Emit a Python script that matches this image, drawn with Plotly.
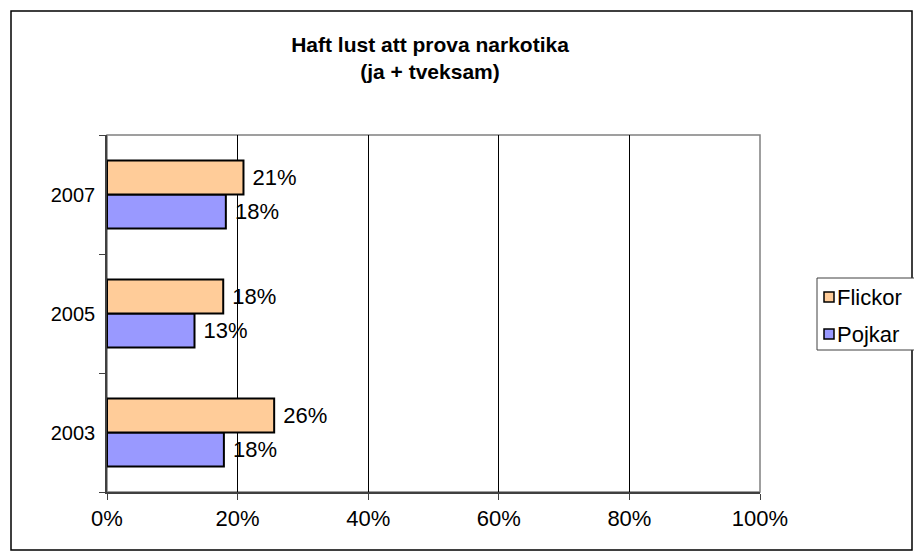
import plotly.graph_objects as go

# data
years = ["2003", "2005", "2007"]
flickor = [0.256, 0.178, 0.209]
pojkar = [0.179, 0.134, 0.182]
x_ticks = [0, 0.2, 0.4, 0.6, 0.8, 1.0]
series_names = ["Flickor", "Pojkar"]
series_colors = ["#FFCC99", "#9999FF"]

font = "Arial, Liberation Sans, sans-serif"

# the page body has an 8px margin, so the figure sits 8px in from the corner
OFF = 8
W, H = 922 - OFF, 559 - OFF
# plot area in screen pixels
L, R, T, B = 107 - OFF, 760 - OFF, 135 - OFF, 492 - OFF


def px(x):
    return (x - OFF - L) / (R - L)


def py(y):
    return (B - (y - OFF)) / (B - T)


fig = go.Figure()
for name, vals, col in [("Pojkar", pojkar, series_colors[1]),
                        ("Flickor", flickor, series_colors[0])]:
    fig.add_trace(go.Bar(
        y=years, x=vals, name=name, orientation="h",
        marker=dict(color=col, line=dict(color="black", width=2)),
        text=[f" {round(v * 100)}%" for v in vals], textposition="outside",
        textfont=dict(size=22, color="black"), cliponaxis=False,
    ))

# outer chart border and grey plot-area frame
fig.add_shape(type="rect", xref="paper", yref="paper",
              x0=px(11), x1=px(912), y0=py(550), y1=py(11),
              line=dict(color="black", width=1.5), layer="below")
fig.add_shape(type="rect", xref="paper", yref="paper", x0=0, x1=1, y0=0, y1=1,
              line=dict(color="#808080", width=1.5), layer="below")

# legend drawn in the right margin
fig.add_shape(type="rect", xref="paper", yref="paper",
              x0=px(817), x1=px(920), y0=py(350), y1=py(278),
              line=dict(color="#404040", width=1), fillcolor="white")
for i, (name, col) in enumerate(zip(series_names, series_colors)):
    cy = 297 + i * 37
    fig.add_shape(type="rect", xref="paper", yref="paper",
                  x0=px(824), x1=px(834), y0=py(cy + 5), y1=py(cy - 5),
                  line=dict(color="black", width=1.5), fillcolor=col)
    fig.add_annotation(x=px(835), y=py(cy), xref="paper", yref="paper",
                       text=name, showarrow=False, xanchor="left",
                       yanchor="middle", font=dict(size=22))

fig.update_layout(
    width=W, height=H,
    margin=dict(l=L, r=W - R, t=T, b=H - B, autoexpand=False),
    paper_bgcolor="white", plot_bgcolor="white",
    font=dict(family=font, size=20, color="black"),
    title=dict(text="<b>Haft lust att prova narkotika<br>(ja + tveksam)</b>",
               x=(430 - OFF) / W, xanchor="center", y=1 - 44 / H,
               yanchor="middle", font=dict(size=21)),
    barmode="group", bargap=0.43, bargroupgap=0,
    showlegend=False,
    xaxis=dict(range=[0, 1], tickvals=x_ticks, tickformat=".0%",
               tickfont=dict(size=22),
               showgrid=True, gridcolor="black", gridwidth=1,
               showline=True, linecolor="#404040", linewidth=1.5,
               ticks="outside", ticklen=6, tickcolor="#404040",
               zeroline=False, automargin=False),
    yaxis=dict(type="category", showgrid=False, showline=True,
               linecolor="#404040", linewidth=1.5,
               ticks="outside", ticklen=6, tickcolor="#404040",
               tickfont=dict(size=20),
               tickson="boundaries", ticklabelstandoff=6, automargin=False),
)

fig.write_html("out.html")
